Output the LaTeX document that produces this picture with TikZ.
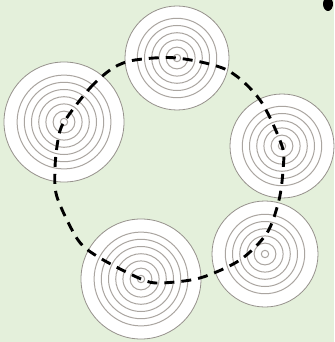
\documentclass[tikz,border=0pt]{standalone}
\usetikzlibrary{calc}
\definecolor{meadow}{RGB}{228,240,219}
\definecolor{bark}{RGB}{150,145,140}
\definecolor{ringline}{RGB}{170,165,160}
\tikzset{
  disc/.style={fill=white, draw=bark, line width=0.8pt},
  ring/.style={draw=ringline, line width=1pt},
  trail/.style={draw=black, line width=2.9pt, dash pattern=on 10pt off 7pt},
}
\begin{document}
\begin{tikzpicture}[x=1pt, y=-1pt]
  \fill[meadow] (0,0) rectangle (334,342);
  \useasboundingbox (0,0) rectangle (334,342);
  % corner blob
  \fill[black] (328,4) ellipse (5 and 7);
  % stumps
  \foreach \n/\cx/\cy/\r/\m in {top/177/58/52/6, left/64/122/60/7, right/282/146/52/6, lowright/265/254/53/6, low/141/279/60/7}{
    \coordinate (\n) at (\cx,\cy);
    \draw[disc] (\n) circle (\r);
    \foreach \k in {1,...,\m}
      \draw[ring] (\n) circle (\k*7.2-3.5);
  }
  % path between stumps
  \draw[trail] plot[smooth cycle, tension=0.5] coordinates {
    (left) (90,88) (113,68) (135,60) (top) (227,70) (260,100)
    (right) (283,170) (279,200) (267,233) (240,260) (200,278)
    (160,283) (low) (100,258) (78,240) (57,197) (55,168) (58,140)};
\end{tikzpicture}
\end{document}
